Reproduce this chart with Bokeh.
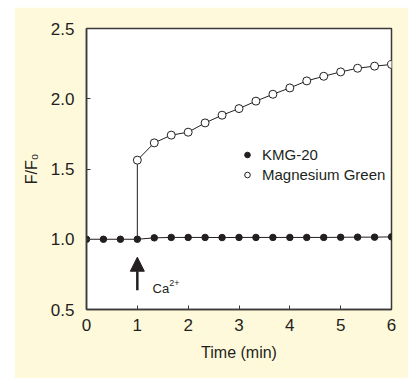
from bokeh.plotting import figure
from bokeh.models import (FixedTicker, NumeralTickFormatter, Legend, LegendItem,
                          Arrow, NormalHead, Label, Spacer)
from bokeh.layouts import row, column
from bokeh.embed import file_html
from bokeh.resources import INLINE

# ---- data ----
kmg_x = [0, 0.333, 0.667, 1.0, 1.333, 1.667, 2.0, 2.333, 2.667, 3.0,
         3.333, 3.667, 4.0, 4.333, 4.667, 5.0, 5.333, 5.667, 6.0]
kmg_y = [1.0, 1.0, 1.0, 1.0, 1.01, 1.013, 1.013, 1.013, 1.012, 1.013,
         1.013, 1.013, 1.013, 1.013, 1.013, 1.014, 1.015, 1.015, 1.017]

mg_x = [1.0, 1.333, 1.667, 2.0, 2.333, 2.667, 3.0, 3.333, 3.667, 4.0,
        4.333, 4.667, 5.0, 5.333, 5.667, 6.0]
mg_y = [1.563, 1.686, 1.741, 1.762, 1.828, 1.883, 1.930, 1.983, 2.032, 2.077,
        2.127, 2.160, 2.191, 2.217, 2.232, 2.244]
mg_start = 1.0  # level before Ca2+ addition

x_ticks = [0, 1, 2, 3, 4, 5, 6]
y_ticks = [0.5, 1.0, 1.5, 2.0, 2.5]

INK = "#231f20"
BG = "#fff9dc"
FONT = "Liberation Sans"

p = figure(width=394, height=371, x_range=(0, 6), y_range=(0.5, 2.5),
           output_backend="svg", toolbar_location=None,
           min_border_left=72, min_border_right=17, min_border_top=21,
           min_border_bottom=69,
           background_fill_color="white", border_fill_color=BG,
           outline_line_color="#3a3a3a", outline_line_width=1.5)
p.xgrid.visible = False
p.ygrid.visible = False

for ax in (p.xaxis[0], p.yaxis[0]):
    ax.axis_line_color = "#3a3a3a"
    ax.axis_line_width = 1.5
    ax.major_tick_in = 4
    ax.major_tick_out = 0
    ax.major_tick_line_color = "#3a3a3a"
    ax.major_tick_line_width = 1
    ax.minor_tick_line_color = None
    ax.major_label_text_font = FONT
    ax.major_label_text_font_size = "17px"
    ax.major_label_text_color = INK
    ax.axis_label_text_font = FONT
    ax.axis_label_text_font_size = "16px"
    ax.axis_label_text_font_style = "normal"
    ax.axis_label_text_color = INK

p.xaxis.ticker = FixedTicker(ticks=x_ticks)
p.yaxis.ticker = FixedTicker(ticks=y_ticks)
p.yaxis.formatter = NumeralTickFormatter(format="0.0")
p.xaxis.major_label_standoff = 9
p.yaxis.major_label_standoff = 12
p.xaxis.axis_label = "Time (min)"
p.yaxis.axis_label = "F/F\u2080"
p.xaxis.axis_label_standoff = 10
p.yaxis.axis_label_standoff = 8

# lines
p.line(kmg_x, kmg_y, line_color=INK, line_width=1)
p.line([mg_x[0]] + mg_x, [mg_start] + mg_y, line_color=INK, line_width=1)

kmg_r = p.scatter(kmg_x, kmg_y, size=6.5, marker="circle",
                  fill_color=INK, line_color=INK)
mg_r = p.scatter(mg_x, mg_y, size=8, marker="circle",
                 fill_color="white", line_color=INK, line_width=1)

legend = Legend(items=[LegendItem(label="KMG-20", renderers=[kmg_r]),
                       LegendItem(label="Magnesium Green", renderers=[mg_r])],
                location=(154, 126), orientation="vertical",
                border_line_color=None, background_fill_alpha=0,
                padding=0, margin=0, spacing=3,
                glyph_width=14, glyph_height=15, label_height=15,
                label_standoff=8,
                label_text_font=FONT, label_text_font_size="15px",
                label_text_color=INK)
p.add_layout(legend, "center")

# Ca2+ arrow
p.add_layout(Arrow(end=NormalHead(size=14, fill_color=INK, line_color=INK),
                   x_start=1.0, y_start=0.637, x_end=1.0, y_end=0.872,
                   line_color=INK, line_width=2.5))
p.add_layout(Label(x=1.30, y=0.652, text="Ca", text_font=FONT,
                   text_font_size="13px", text_color=INK,
                   text_baseline="alphabetic"))
p.add_layout(Label(x=1.63, y=0.692, text="2+", text_font=FONT,
                   text_font_size="9px", text_color=INK,
                   text_baseline="alphabetic"))

layout = column(Spacer(width=408, height=7),
                row(Spacer(width=14, height=371), p))
open("out.html", "w").write(file_html(layout, INLINE))
